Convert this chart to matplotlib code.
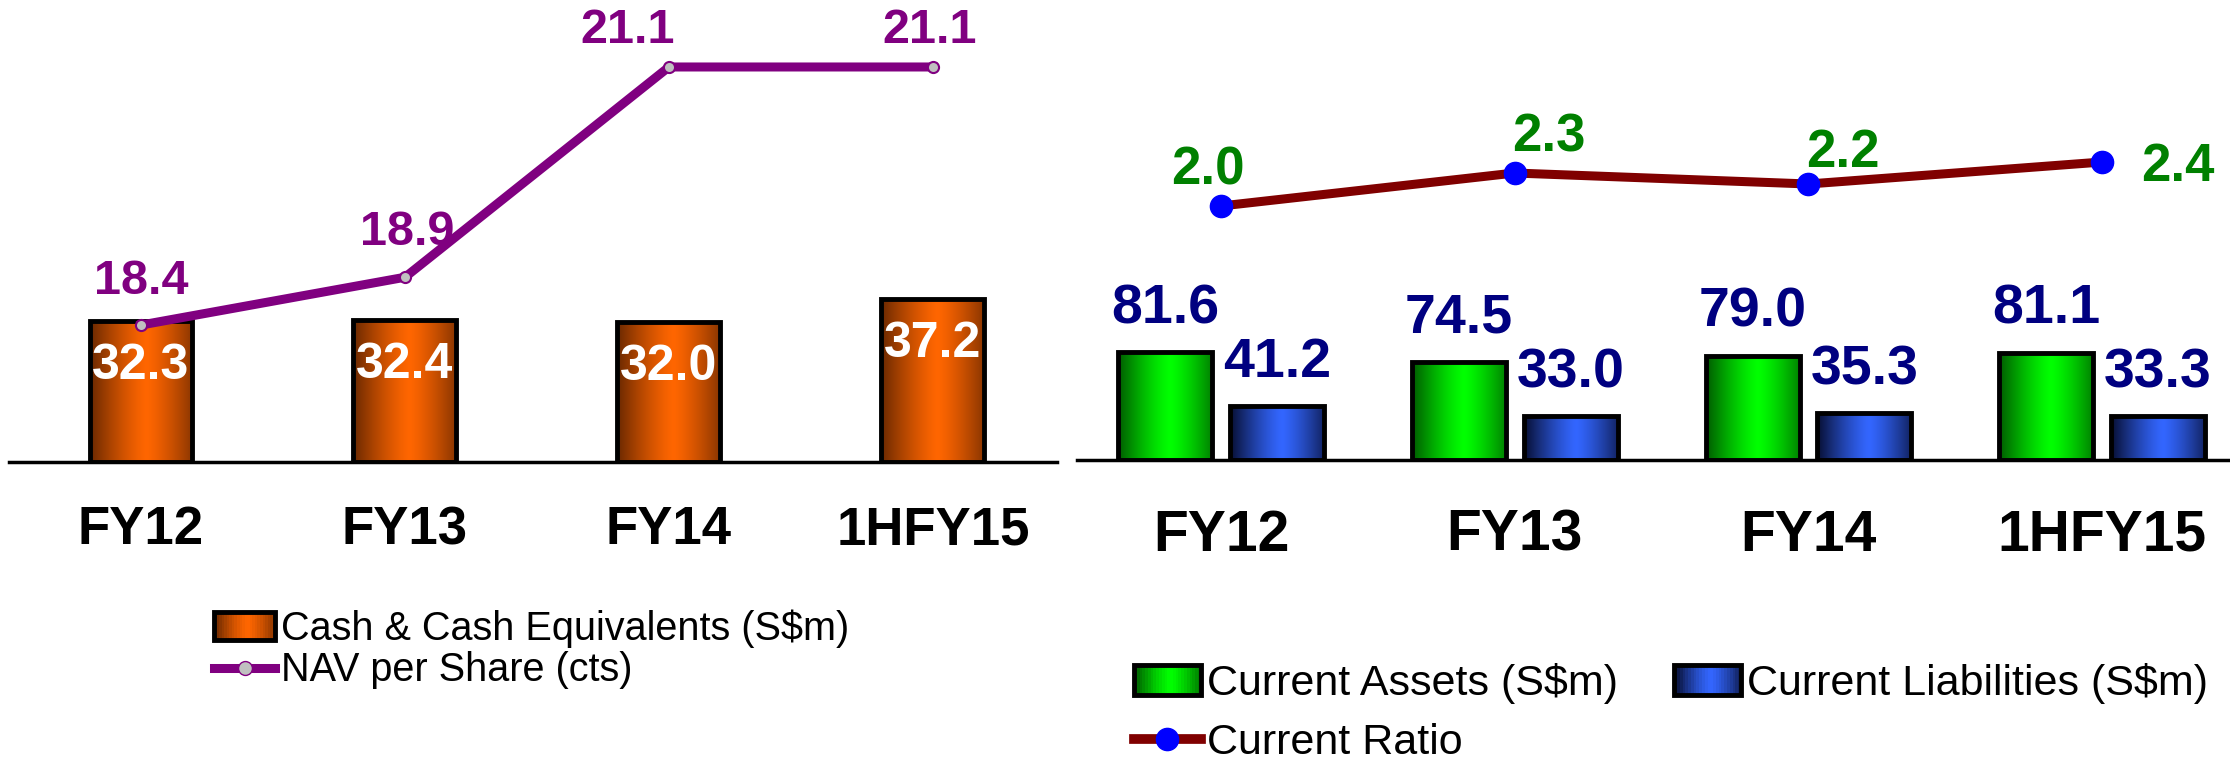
import numpy as np
import matplotlib
matplotlib.use("Agg")
import matplotlib.pyplot as plt
from matplotlib.patches import Rectangle
from matplotlib.lines import Line2D
from matplotlib.legend_handler import HandlerBase

plt.rcParams['font.family'] = ['Liberation Sans', 'DejaVu Sans']

# data
periods = ['FY12', 'FY13', 'FY14', '1HFY15']
cash = [32.3, 32.4, 32.0, 37.2]
nav = [18.4, 18.9, 21.1, 21.1]
cur_assets = [81.6, 74.5, 79.0, 81.1]
cur_liab = [41.2, 33.0, 35.3, 33.3]
cur_ratio = [2.0, 2.3, 2.2, 2.4]

# colours (edge shade, centre shade)
ORANGE = ((0.42, 0.16, 0.0), (1.0, 0.40, 0.0))
GREEN = ((0.0, 0.36, 0.0), (0.0, 1.0, 0.0))
BLUE = ((0.03, 0.06, 0.20), (0.20, 0.40, 1.0))

W, H = 2230, 768
fig = plt.figure(figsize=(W / 100, H / 100), dpi=100)


def shade(edge, mid, n=64):
    t = np.linspace(0, 1, n)
    k = 1 - np.clip(np.abs(t - 0.55) / 0.55, 0, 1) ** 1.3
    e, m = np.array(edge), np.array(mid)
    return e + (m - e) * k[:, None]


def grad_bars(ax, bars, cols):
    img = shade(*cols)[None, :, :]
    for b in bars:
        x0, y0, w, h = b.get_x(), b.get_y(), b.get_width(), b.get_height()
        ax.imshow(img, extent=(x0, x0 + w, y0, y0 + h), aspect='auto',
                  zorder=1, interpolation='bilinear')


class GradHandler(HandlerBase):
    def __init__(self, cols):
        super().__init__()
        self.cols = cols

    def create_artists(self, legend, orig_handle, xdescent, ydescent,
                       width, height, fontsize, trans):
        c = shade(*self.cols, n=24)
        arts = []
        for i in range(24):
            arts.append(Rectangle((-xdescent + i * width / 24, -ydescent),
                                  width / 24 * 1.1, height, facecolor=c[i],
                                  edgecolor='none', transform=trans))
        arts.append(Rectangle((-xdescent, -ydescent), width, height,
                              facecolor='none', edgecolor='black', lw=3.5,
                              transform=trans))
        return arts


def px(v):
    return v * 0.72


def clean(ax):
    for s in ['top', 'left', 'right']:
        ax.spines[s].set_visible(False)
    ax.set_yticks([])


x = np.arange(len(periods))

# ---------------- left panel ----------------
axL = fig.add_axes([9 / W, 1 - 462 / H, 1048 / W, 462 / H])
axL.patch.set_alpha(0)
bl = axL.bar(x, cash, width=0.39, facecolor='none', edgecolor='black',
             linewidth=3.5, zorder=2)
grad_bars(axL, bl, ORANGE)
axL.set_xlim(-0.5, 3.47)
axL.set_ylim(0, 462 / 4.37)
clean(axL)
axL.spines['bottom'].set_linewidth(2.5)
axL.set_xticks(x, labels=periods, fontsize=38, fontweight='bold')
axL.tick_params(axis='x', length=0, pad=31)
for xi, v in zip(x, cash):
    axL.annotate(f'{v:.1f}', (xi, v), xytext=(0, px(-45)),
                 textcoords='offset points', ha='center', va='center',
                 color='white', fontsize=36, fontweight='bold', zorder=5)

axL2 = axL.twinx()
axL2.plot(x, nav, color='#800080', lw=6.5, marker='o', markersize=8,
          markerfacecolor='#C0C0C0', markeredgecolor='#800080',
          markeredgewidth=1.5, zorder=3)
axL2.set_ylim(18.4 - 137 / 95.6, 21.1 + 67 / 95.6)
clean(axL2)
axL2.spines['bottom'].set_visible(False)
nav_off = [(0, 44), (2, 45), (-41, 36), (-3, 36)]
for xi, v, (dx, dy) in zip(x, nav, nav_off):
    axL2.annotate(f'{v:.1f}', (xi, v), xytext=(px(dx), px(dy)),
                  textcoords='offset points', ha='center', va='center',
                  color='#800080', fontsize=35, fontweight='bold')

hL = [Rectangle((0, 0), 1, 1),
      Line2D([], [], color='#800080', lw=6.5, marker='o', markersize=10,
             markerfacecolor='#C0C0C0', markeredgecolor='#800080')]
fig.legend(hL, ['Cash & Cash Equivalents (S$m)', 'NAV per Share (cts)'],
           handler_map={hL[0]: GradHandler(ORANGE)},
           loc='upper left', bbox_to_anchor=(214 / W, 1 - 609 / H),
           frameon=False, fontsize=28.5, handlelength=1.55, handletextpad=0.15,
           labelspacing=0.1, borderpad=0, borderaxespad=0)

# ---------------- right panel ----------------
axR = fig.add_axes([1077 / W, 1 - 460 / H, 1153 / W, 460 / H])
axR.patch.set_alpha(0)
ba = axR.bar(x - 0.19, cur_assets, width=0.32, facecolor='none',
             edgecolor='black', linewidth=3.5, zorder=2)
bc = axR.bar(x + 0.19, cur_liab, width=0.32, facecolor='none',
             edgecolor='black', linewidth=3.5, zorder=2)
grad_bars(axR, ba, GREEN)
grad_bars(axR, bc, BLUE)
axR.set_xlim(-0.49, 3.435)
axR.set_ylim(0, 460 / 1.32)
clean(axR)
axR.spines['bottom'].set_linewidth(2.5)
axR.set_xticks(x, labels=periods, fontsize=41, fontweight='bold')
axR.tick_params(axis='x', length=0, pad=35)
for bars, vals in ((ba, cur_assets), (bc, cur_liab)):
    for b, v in zip(bars, vals):
        axR.annotate(f'{v:.1f}', (b.get_x() + b.get_width() / 2, v),
                     xytext=(0, px(43)), textcoords='offset points',
                     ha='center', va='center', color='#000080',
                     fontsize=40, fontweight='bold')

axR2 = axR.twinx()
axR2.plot(x, cur_ratio, color='#800000', lw=6.5, marker='o', markersize=16,
          markerfacecolor='#0000FF', markeredgecolor='#0000FF', zorder=3)
axR2.set_ylim(2.0 - 254 / 110, 2.0 + 206 / 110)
clean(axR2)
axR2.spines['bottom'].set_visible(False)
ratio_off = [(-13, 36), (34, 36), (34, 31), (76, -5)]
for xi, v, (dx, dy) in zip(x, cur_ratio, ratio_off):
    axR2.annotate(f'{v:.1f}', (xi, v), xytext=(px(dx), px(dy)),
                  textcoords='offset points', ha='center', va='center',
                  color='#008000', fontsize=38, fontweight='bold')

hA = Rectangle((0, 0), 1, 1)
hB = Rectangle((0, 0), 1, 1)
hC = Line2D([], [], color='#800000', lw=7, marker='o', markersize=16,
            markerfacecolor='#0000FF', markeredgecolor='#0000FF')
fig.legend([hA, hC, hB],
           ['Current Assets (S$m)', 'Current Ratio', 'Current Liabilities (S$m)'],
           handler_map={hA: GradHandler(GREEN), hB: GradHandler(BLUE)},
           ncol=2, loc='upper left', bbox_to_anchor=(1134 / W, 1 - 663 / H),
           frameon=False, fontsize=31, handlelength=1.55, handletextpad=0.15,
           labelspacing=0.45, columnspacing=1.3, borderpad=0, borderaxespad=0)

fig.savefig('out.png', dpi=100)
